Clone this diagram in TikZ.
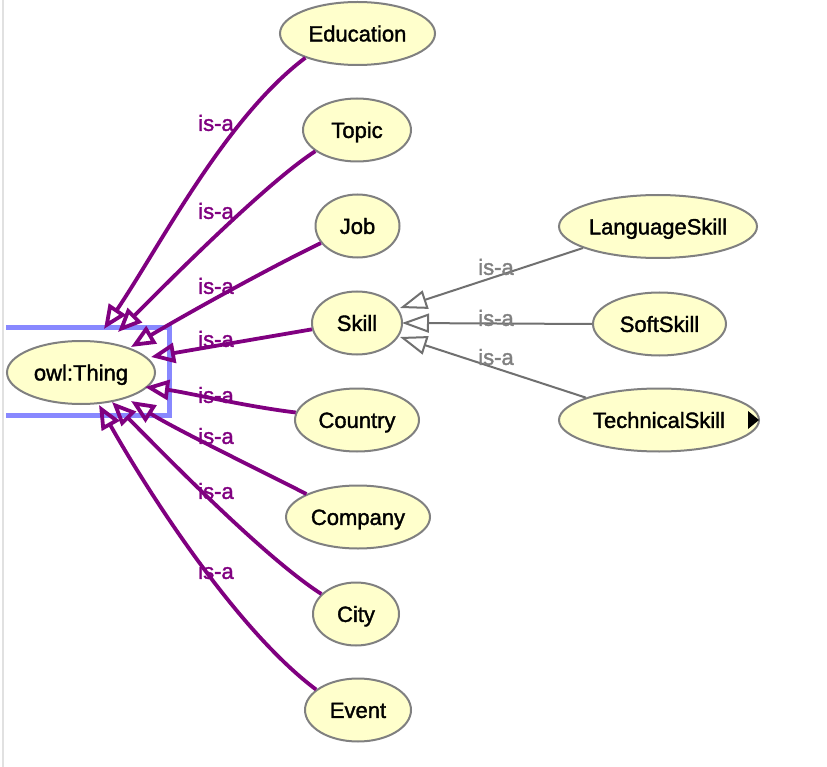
\documentclass[tikz,border=0pt]{standalone}
\usepackage{fontspec}
\setmainfont{Liberation Sans}
\newfontfamily\diafont{Liberation Sans}[FakeBold=1.6]
\usetikzlibrary{arrows.meta,shapes.geometric,calc}
\definecolor{nodefill}{RGB}{255,255,204}
\definecolor{nodeborder}{RGB}{128,128,128}
\definecolor{isapurple}{RGB}{128,0,128}
\definecolor{isagray}{RGB}{112,112,112}
\definecolor{isagraytext}{RGB}{128,128,128}
\definecolor{selblue}{RGB}{136,136,255}
\definecolor{panelline}{RGB}{225,225,225}
\tikzset{
  cls/.style={ellipse, draw=nodeborder, fill=nodefill, line width=2pt,
    minimum height=63pt, inner xsep=-6pt, inner ysep=0pt,
    text height=15.8pt, text depth=0pt,
    font=\diafont\fontsize{22}{26}\selectfont, text=black},
  topedge/.style={draw=isapurple, line width=3.8pt, line join=miter,
    -{Triangle[open, length=24pt, width=20pt]}},
  subedge/.style={draw=isagray, line width=2pt,
    -{Triangle[open, length=27pt, width=19pt]}},
  toplbl/.style={font=\diafont\fontsize{22}{26}\selectfont, text=isapurple, inner sep=0pt},
  sublbl/.style={font=\diafont\fontsize{22}{26}\selectfont, text=isagraytext, inner sep=0pt},
}
\begin{document}
\begin{tikzpicture}[x=1pt, y=-1pt]
\useasboundingbox[fill=white] (0,0) rectangle (827,767);
\draw[panelline, line width=1.5pt] (3,0) -- (3,767);

% nodes
\node[cls, minimum width=148pt] (thing) at (81,372.5) {owl:Thing};
\node[cls, minimum width=155pt] (edu) at (357.5,33.5) {Education};
\node[cls, minimum width=108pt] (topic) at (357,130) {Topic};
\node[cls, minimum width=84pt] (job) at (357.5,226) {Job};
\node[cls, minimum width=90pt] (skill) at (357,323) {Skill};
\node[cls, minimum width=124pt] (country) at (357,420) {Country};
\node[cls, minimum width=144pt] (company) at (358,517) {Company};
\node[cls, minimum width=86pt] (city) at (356,614) {City};
\node[cls, minimum width=106pt] (event) at (358,710) {Event};
\node[cls, minimum width=198pt] (lang) at (658,226.5) {LanguageSkill};
\node[cls, minimum width=133pt] (soft) at (659.5,324) {SoftSkill};
\node[cls, minimum width=200pt] (tech) at (659,420) {TechnicalSkill\hspace{20pt}};
\fill[black] ($(tech.east)+(-12,-9)$) -- ($(tech.east)+(-1,0)$) -- ($(tech.east)+(-12,9)$) -- cycle;

% selection rectangle
\draw[selblue, line width=5pt] (6,327.5) -- (169.5,327.5) -- (169.5,415.5) -- (6,415.5);

% is-a edges to owl:Thing
\draw[topedge] (edu.205) .. controls +(-80,60) and +(56,-83) .. ($(thing.center)+(23,-43.5)$);
\draw[topedge] (topic.207) .. controls +(-50,32) and +(42,-42) .. ($(thing.center)+(37,-40.5)$);
\draw[topedge] (job.205) .. controls +(-54,26) and +(52,-31) .. ($(thing.center)+(50,-25.5)$);
\draw[topedge] (skill.188) -- ($(thing.center)+(70,-15.5)$);
\draw[topedge] (country.173) .. controls +(-50,-6) and +(40,5) .. ($(thing.center)+(64,14.5)$);
\draw[topedge] (company.156) .. controls +(-45,-23) and +(42,27) .. ($(thing.center)+(50,28.5)$);
\draw[topedge] (city.150) .. controls +(-59,-38) and +(49,49) .. ($(thing.center)+(31,29.5)$);
\draw[topedge] (event.154) .. controls +(-80,-60) and +(49,87) .. ($(thing.center)+(18,32.5)$);

\node[toplbl] (l1) at (216,123) {is-a};
\node[toplbl] (l2) at (216,211) {is-a};
\node[toplbl] (l3) at (216,286) {is-a};
\node[toplbl] (l4) at (216,339) {is-a};
\node[toplbl] (l5) at (216,395) {is-a};
\node[toplbl] (l6) at (216,436) {is-a};
\node[toplbl] (l7) at (216,491) {is-a};
\node[toplbl] (l8) at (216,571) {is-a};

% is-a edges to Skill
\draw[subedge] (lang.196) -- ($(skill.center)+(43,-15)$);
\draw[subedge] (soft.180) -- ($(skill.center)+(45,0)$);
\draw[subedge] (tech.163) -- ($(skill.center)+(43,14)$);

\node[sublbl] (g1) at (496,267) {is-a};
\node[sublbl] (g2) at (496,318) {is-a};
\node[sublbl] (g3) at (496,357) {is-a};
\end{tikzpicture}
\end{document}
